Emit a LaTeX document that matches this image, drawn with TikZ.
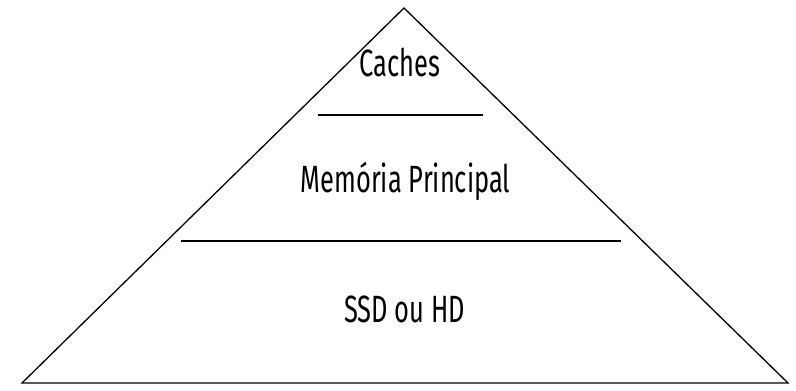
\documentclass[tikz,border=0pt]{standalone}
\usepackage{fontspec}
\setmainfont[FakeStretch=0.67]{Fira Sans}
\begin{document}
\begin{tikzpicture}[x=1pt,y=-1pt,
  lbl/.style={font=\fontsize{38}{44}\selectfont, inner sep=0pt, anchor=base},
  edge/.style={line width=1.3pt, black}]
\useasboundingbox (0,0) rectangle (796,391);
\coordinate (apex) at (404,8);
\coordinate (bl) at (22,383);
\coordinate (br) at (788,383);
\draw[edge, line join=miter] (apex) -- (br) -- (bl) -- cycle;
\coordinate (l1a) at (318,115);
\coordinate (l1b) at (483,115);
\coordinate (l2a) at (181,241);
\coordinate (l2b) at (621,241);
\draw[edge] (l1a) -- (l1b);
\draw[edge] (l2a) -- (l2b);
\node[lbl] (caches) at (400,76) {Caches};
\node[lbl] (mem) at (405.5,192) {Memória Principal};
\node[lbl] (ssd) at (404.5,322) {SSD ou HD};
\end{tikzpicture}
\end{document}
